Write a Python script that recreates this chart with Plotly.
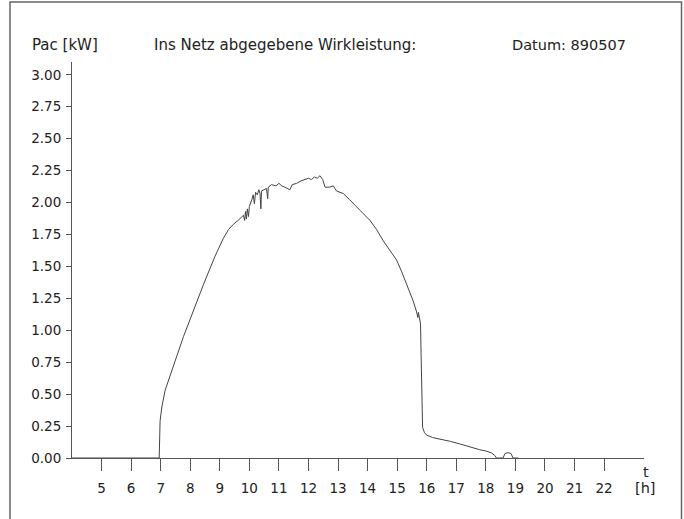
import plotly.graph_objects as go

# Time of day [h] and AC power [kW]
hours = [4.0, 6.95, 6.98, 7.04, 7.15, 7.32, 7.49, 7.77, 8.11, 8.45, 8.84, 9.12, 9.30, 9.46,
         9.62, 9.72, 9.80, 9.84, 9.87, 9.90, 9.93, 9.97, 10.00, 10.08, 10.13, 10.17, 10.21,
         10.27, 10.32, 10.36, 10.39, 10.41, 10.50, 10.58, 10.62, 10.64, 10.75, 10.90, 11.00,
         11.10, 11.20, 11.30, 11.37, 11.45, 11.60, 11.75, 11.90, 12.00, 12.10, 12.20, 12.30,
         12.39, 12.48, 12.56, 12.70, 12.84, 12.95, 13.05, 13.18, 13.40, 13.60, 13.74, 14.08,
         14.30, 14.53, 14.75, 14.98, 15.15, 15.32, 15.45, 15.54, 15.65, 15.70, 15.72, 15.76,
         15.79, 15.81, 15.83, 15.86, 15.92, 15.99, 16.20, 16.44, 16.80, 17.12, 17.40, 17.60,
         17.79, 18.00, 18.19, 18.30, 18.36, 18.58, 18.65, 18.75, 18.85, 18.92, 19.10]
pac_kw = [0.0, 0.0, 0.29, 0.40, 0.53, 0.64, 0.76, 0.95, 1.16, 1.36, 1.58, 1.72, 1.79, 1.83,
          1.86, 1.88, 1.90, 1.86, 1.93, 1.87, 1.95, 1.89, 1.97, 2.02, 2.06, 1.99, 2.08,
          2.06, 2.10, 2.07, 1.95, 2.09, 2.10, 2.11, 2.03, 2.12, 2.14, 2.13, 2.15,
          2.13, 2.12, 2.11, 2.10, 2.14, 2.15, 2.17, 2.18, 2.19, 2.18, 2.20, 2.19,
          2.21, 2.18, 2.12, 2.12, 2.13, 2.09, 2.08, 2.07, 2.02, 1.97, 1.94, 1.86,
          1.79, 1.70, 1.63, 1.55, 1.46, 1.36, 1.29, 1.23, 1.15, 1.10, 1.14, 1.08,
          1.05, 0.80, 0.45, 0.24, 0.20, 0.18, 0.16, 0.15, 0.13, 0.11, 0.09, 0.075,
          0.065, 0.055, 0.04, 0.02, 0.0, 0.0, 0.035, 0.042, 0.035, 0.0, 0.0]

x_ticks = list(range(5, 23))
y_ticks = [0.0, 0.25, 0.5, 0.75, 1.0, 1.25, 1.5, 1.75, 2.0, 2.25, 2.5, 2.75, 3.0]
y_tick_labels = [f"{v:.2f}" for v in y_ticks]

FONT = "DejaVu Sans, Liberation Sans, sans-serif"
TXT = "#222222"
AX = "#555555"

fig = go.Figure()
fig.add_trace(go.Scatter(x=hours, y=pac_kw, mode="lines",
                         line=dict(color="#444444", width=1), hoverinfo="skip"))

fig.update_layout(
    width=684, height=519,
    margin=dict(l=72, r=40, t=62, b=61, autoexpand=False),
    paper_bgcolor="white", plot_bgcolor="white",
    showlegend=False,
    font=dict(family=FONT, size=13.5, color=TXT),
    xaxis=dict(range=[4, 23.35], tickmode="array", tickvals=x_ticks,
               ticktext=[str(v) for v in x_ticks], automargin=False,
               showgrid=False, zeroline=False, showline=True, linecolor=AX, linewidth=1,
               ticks="outside", ticklen=12, tickcolor=AX, tickwidth=1,
               ticklabelstandoff=6, tickfont=dict(family=FONT, size=13.5, color=TXT)),
    yaxis=dict(range=[0, 3.1], tickmode="array", tickvals=y_ticks, ticktext=y_tick_labels,
               automargin=False,
               showgrid=False, zeroline=False, showline=True, linecolor=AX, linewidth=1,
               ticks="outside", ticklen=5, tickcolor=AX, tickwidth=1,
               ticklabelstandoff=2, tickfont=dict(family=FONT, size=13.5, color=TXT)),
)

def px_x(p):
    return (p - 72) / 572

def px_y(p):
    return (458 - p) / 396

ann = [
    ("Pac [kW]", 30, 45, "left", 15),
    ("Ins Netz abgegebene Wirkleistung:", 152, 45, "left", 15),
    ("Datum: 890507", 510, 45, "left", 14.5),
    ("t", 646, 472, "center", 14.5),
    ("[h]", 645, 488, "center", 14.5),
]
for text, x, y, anchor, size in ann:
    fig.add_annotation(text=text, x=px_x(x), y=px_y(y), xref="paper", yref="paper",
                       xanchor=anchor, yanchor="middle", showarrow=False,
                       font=dict(family=FONT, size=size, color=TXT))

fig.add_shape(type="rect", xref="paper", yref="paper",
              x0=px_x(10), x1=px_x(681.5), y0=px_y(2), y1=px_y(530),
              line=dict(color="#666666", width=1.5), fillcolor="rgba(0,0,0,0)", layer="below")

fig.write_html("out.html", config={"displayModeBar": False},
               post_script="document.body.style.margin='0px';document.body.style.padding='0px';")
